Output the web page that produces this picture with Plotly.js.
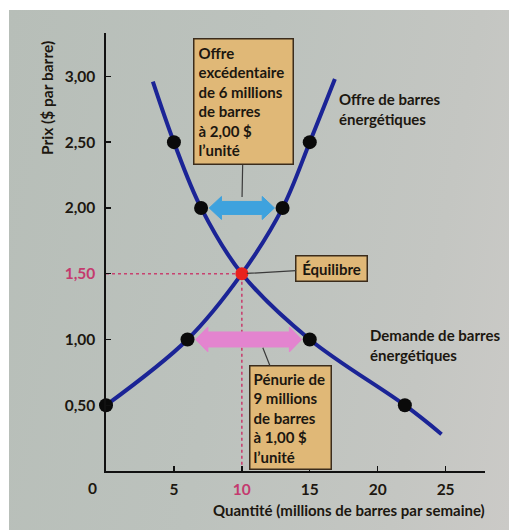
<!DOCTYPE html>
<html>
<head>
<meta charset="utf-8">
<script src="https://cdn.plot.ly/plotly-3.0.1.min.js"></script>
<style>
  html, body { margin: 0; padding: 0; background: #ffffff; }
  #page {
    position: absolute; left: 9px; top: 10px; width: 500px; height: 520px;
    background: linear-gradient(100deg, #b7beb8 0%, #bcc2bd 45%, #c4c6c2 80%, #cbcac7 100%);
  }
  #chart { position: absolute; left: 0; top: 0; width: 509px; height: 530px; }
</style>
</head>
<body>
<div id="page"></div>
<div id="chart"></div>
<script>
// Market for energy bars: demand and supply schedules
const priceSchedule = [0.5, 1.0, 1.5, 2.0, 2.5];     // $ per bar
const qtySupplied   = [0, 6, 10, 13, 15];            // millions of bars per week
const qtyDemanded   = [22, 15, 10, 7, 5];            // millions of bars per week

// Where the drawn curves run past the schedule points
const supplyTopQty = 16.85, supplyTopPrice = 2.98;
const demandTopQty = 3.45,  demandTopPrice = 2.96;
const demandEndQty = 24.7,  demandEndPrice = 0.28;

// Axis ticks and labels
const priceTicks = [0.5, 1.0, 1.5, 2.0, 2.5, 3.0];
const priceTickText = ['0,50', '1,00', '<span style="color:#c43a6e">1,50</span>', '2,00', '2,50', '3,00'];
const qtyTicks = [5, 10, 15, 20, 25];
const qtyTickText = ['5', '<span style="color:#c43a6e">10</span>', '15', '20', '25'];

// Surplus / shortage prices
const surplusPrice = 2.0;
const shortagePrice = 1.0;

// ---- derived values ----
const eqIdx = priceSchedule.findIndex((p, i) => qtySupplied[i] === qtyDemanded[i]);
const eqPrice = priceSchedule[eqIdx];
const eqQty = qtySupplied[eqIdx];

const supplyX = qtySupplied.concat([supplyTopQty]);
const supplyY = priceSchedule.concat([supplyTopPrice]);
const demandX = [demandEndQty].concat(qtyDemanded, [demandTopQty]);
const demandY = [demandEndPrice].concat(priceSchedule, [demandTopPrice]);

const dotsX = [], dotsY = [];
priceSchedule.forEach((p, i) => {
  if (i === eqIdx) return;
  dotsX.push(qtySupplied[i], qtyDemanded[i]);
  dotsY.push(p, p);
});

function qAt(qs, p) { return qs[priceSchedule.indexOf(p)]; }

// Block double arrow between two quantities at a given price
function doubleArrow(q0, q1, price, color, headHalf, shaftHalf) {
  const pad = 0.6, head = 0.9;
  const a = Math.min(q0, q1) + pad, b = Math.max(q0, q1) - pad;
  const pts = [
    [a, 0], [a + head, headHalf], [a + head, shaftHalf],
    [b - head, shaftHalf], [b - head, headHalf], [b, 0],
    [b - head, -headHalf], [b - head, -shaftHalf],
    [a + head, -shaftHalf], [a + head, -headHalf]
  ];
  const path = pts.map((p, i) => (i ? 'L ' : 'M ') + p[0] + ',' + p[1]).join(' ') + ' Z';
  return {
    type: 'path', xref: 'x', yref: 'y', ysizemode: 'pixel', yanchor: price,
    path: path, fillcolor: color, line: { color: color, width: 1 }, layer: 'above'
  };
}

const FONT = 'Lato, "Open Sans", sans-serif';
const INK = '#1c1710';
const BLUE = '#1b2496';

const traces = [
  { // equilibrium guide lines
    x: [0, eqQty, eqQty], y: [eqPrice, eqPrice, 0], mode: 'lines',
    line: { color: '#c8416f', width: 1.6, dash: 'dot' }, hoverinfo: 'skip'
  },
  { x: supplyX, y: supplyY, mode: 'lines', line: { color: BLUE, width: 4, shape: 'spline' }, name: 'Offre' },
  { x: demandX, y: demandY, mode: 'lines', line: { color: BLUE, width: 4, shape: 'spline' }, name: 'Demande' },
  { x: dotsX, y: dotsY, mode: 'markers', marker: { color: '#0a0a0a', size: 14 }, cliponaxis: false },
  { x: [eqQty], y: [eqPrice], mode: 'markers', marker: { color: '#e8221e', size: 13 } }
];

const boxStyle = {
  bgcolor: '#e0b877', bordercolor: '#3b2c1c', borderwidth: 1.5,
  font: { family: FONT, size: 15, color: INK, weight: 'bold' },
  showarrow: true, arrowhead: 0, arrowwidth: 1.2, arrowcolor: '#3a3a3a'
};

const annotations = [
  Object.assign({}, boxStyle, {
    text: 'Offre<br>excédentaire<br>de 6 millions<br>de barres<br>à 2,00 $<br>l’unité',
    x: eqQty, y: surplusPrice, xref: 'x', yref: 'y', ax: 2, ay: -106,
    align: 'left', width: 90, borderpad: 4, standoff: 11
  }),
  Object.assign({}, boxStyle, {
    text: 'Équilibre',
    x: eqQty, y: eqPrice, xref: 'x', yref: 'y', ax: 90, ay: -5,
    align: 'center', width: 64, borderpad: 3, standoff: 5
  }),
  Object.assign({}, boxStyle, {
    text: 'Pénurie de<br>9 millions<br>de barres<br>à 1,00 $<br>l’unité',
    x: 11.3, y: shortagePrice, xref: 'x', yref: 'y', ax: 31, ay: 78,
    align: 'left', width: 74, borderpad: 3, standoff: 9
  }),
  { // curve labels
    text: 'Offre de barres<br>énergétiques', x: supplyTopQty, y: supplyTopPrice,
    xref: 'x', yref: 'y', xanchor: 'left', yanchor: 'top', xshift: 2, yshift: -9,
    showarrow: false, align: 'left', font: { family: FONT, size: 15, color: INK, weight: 'bold' }
  },
  {
    text: 'Demande de barres<br>énergétiques', x: 19.3, y: 0.96,
    xref: 'x', yref: 'y', xanchor: 'left', yanchor: 'middle',
    showarrow: false, align: 'left', font: { family: FONT, size: 15, color: INK, weight: 'bold' }
  },
  { // origin label
    text: '0', x: 0, y: 0, xref: 'x', yref: 'y', xanchor: 'center', yanchor: 'top',
    xshift: -14, yshift: -6, showarrow: false, font: { family: FONT, size: 15.5, color: INK, weight: 'bold' }
  },
  { // axis titles
    text: 'Quantité (millions de barres par semaine)', x: 1, y: 0, xref: 'paper', yref: 'paper',
    xanchor: 'right', yanchor: 'middle', yshift: -39, xshift: 2, showarrow: false,
    font: { family: FONT, size: 15, color: INK, weight: 'bold' }
  },
  {
    text: 'Prix ($ par barre)', x: 0, y: 1, xref: 'paper', yref: 'paper', textangle: -90,
    xanchor: 'center', yanchor: 'top', xshift: -59, yshift: -6, showarrow: false,
    font: { family: FONT, size: 15.5, color: INK, weight: 'bold' }
  }
];

const axisCommon = {
  showgrid: false, zeroline: false, showline: true, linecolor: '#111', linewidth: 1.6,
  ticks: 'inside', ticklen: 5, tickwidth: 1.4, tickcolor: '#111',
  tickfont: { family: FONT, size: 15.5, color: INK, weight: 'bold' }, fixedrange: true
};

const layout = {
  width: 509, height: 530,
  margin: { l: 106, r: 24, t: 33, b: 59 },
  paper_bgcolor: 'rgba(0,0,0,0)', plot_bgcolor: 'rgba(0,0,0,0)',
  showlegend: false,
  xaxis: Object.assign({}, axisCommon, {
    range: [0, 27.9], tickmode: 'array', tickvals: qtyTicks, ticktext: qtyTickText, ticklabelstandoff: 4
  }),
  yaxis: Object.assign({}, axisCommon, {
    range: [0, 3.33], tickmode: 'array', tickvals: priceTicks, ticktext: priceTickText, ticklabelstandoff: 6
  }),
  shapes: [
    doubleArrow(qAt(qtyDemanded, surplusPrice), qAt(qtySupplied, surplusPrice), surplusPrice, '#3ea2de', 11.5, 6.5),
    doubleArrow(qAt(qtySupplied, shortagePrice), qAt(qtyDemanded, shortagePrice), shortagePrice, '#e384cf', 12.5, 7.5)
  ],
  annotations: annotations
};

Plotly.newPlot('chart', traces, layout, { displayModeBar: false, staticPlot: true });
</script>
</body>
</html>
